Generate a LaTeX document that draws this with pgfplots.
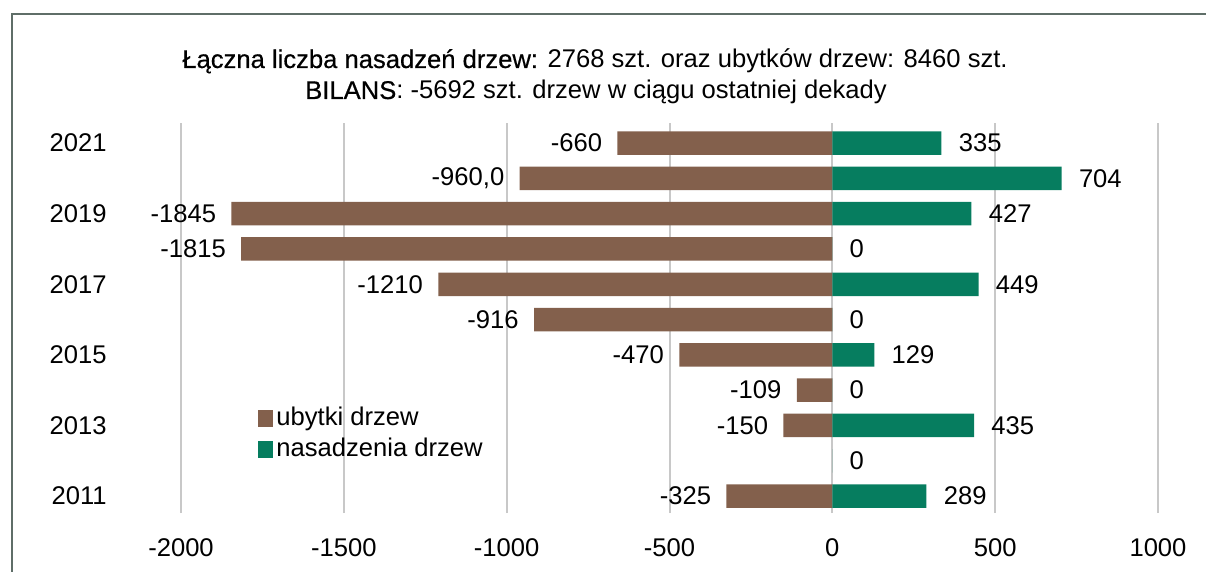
\documentclass[border=0pt]{standalone}
\usepackage{fontspec}
\setmainfont{Liberation Sans}
\usepackage{pgfplots}
\usepackage{pgfplotstable}
\pgfplotsset{compat=1.18}
\definecolor{brownbar}{RGB}{131,96,76}
\definecolor{greenbar}{RGB}{6,125,95}
\definecolor{gridc}{RGB}{200,200,200}
\definecolor{framec}{RGB}{95,110,104}

\pgfplotstableread{
year val lab
2021 -660 -660
2020 -960 -960,0
2019 -1845 -1845
2018 -1815 -1815
2017 -1210 -1210
2016 -916 -916
2015 -470 -470
2014 -109 -109
2013 -150 -150
2011 -325 -325
}\ubytki

\pgfplotstableread{
year val lab
2021 335 335
2020 704 704
2019 427 427
2018 0 0
2017 449 449
2016 0 0
2015 129 129
2014 0 0
2013 435 435
2012 0 0
2011 289 289
}\nasadz

\begin{document}
\fontsize{12.8pt}{15pt}\selectfont
\begin{tikzpicture}
\path[use as bounding box] (0pt,0pt) rectangle (603pt,-286pt);
\draw[framec, line width=1pt] (5.75pt,-290pt) -- (5.75pt,-7.25pt) -- (610pt,-7.25pt);
\node[anchor=base] at (297.5pt,-34pt) {{\addfontfeature{FakeBold=0.6}Łączna liczba nasadzeń drzew:} 2768 szt. oraz ubytków drzew: 8460 szt.};
\node[anchor=base] at (298pt,-49.5pt) {{\addfontfeature{FakeBold=0.6}BILANS}: -5692 szt. drzew w ciągu ostatniej dekady};
\begin{axis}[
 at={(90.5pt,-61.5pt)}, anchor=north west,
 scale only axis, width=488.5pt, height=195pt,
 xmin=-2000, xmax=1000, ymin=2010.52, ymax=2021.57,
 xbar, bar width=11.75pt, bar shift=0pt,
 xtick={-2000,-1500,-1000,-500,0,500,1000},
 xticklabels={-2000,-1500,-1000,-500,0,500,1000},
 ytick={2011,2013,2015,2017,2019,2021},
 yticklabels={2011,2013,2015,2017,2019,2021},
 xmajorgrids, major grid style={gridc, line width=1pt},
 axis line style={draw=none}, major tick length=0pt,
 xticklabel style={anchor=center, inner sep=0pt, yshift=-17.5pt},
 yticklabel style={anchor=east, inner sep=0pt, xshift=-37pt},
 nodes near coords, point meta=explicit symbolic,
 every node near coord/.append style={inner sep=0pt, text=black},
 legend style={at={(axis description cs:0.0788,0.283)}, anchor=north west,
   draw=none, fill=none, inner sep=0pt, row sep=0pt,
   nodes={inner sep=1.5pt, text height=9.5pt, text depth=3pt, anchor=west}},
 legend cell align=left,
 clip=false,
]
\addplot[fill=brownbar, draw=none,
  legend image code/.code={\fill[brownbar] (0pt,-4.4pt) rectangle (7.5pt,4.4pt);},
  every node near coord/.append style={anchor=east, xshift=-7.5pt}]
  table[x=val,y=year,meta=lab]{\ubytki};
\addplot[fill=greenbar, draw=none,
  legend image code/.code={\fill[greenbar] (0pt,-4.4pt) rectangle (7.5pt,4.4pt);},
  every node near coord/.append style={anchor=west, xshift=8.5pt}]
  table[x=val,y=year,meta=lab]{\nasadz};
\legend{ubytki drzew, nasadzenia drzew}
\end{axis}
\end{tikzpicture}
\end{document}
